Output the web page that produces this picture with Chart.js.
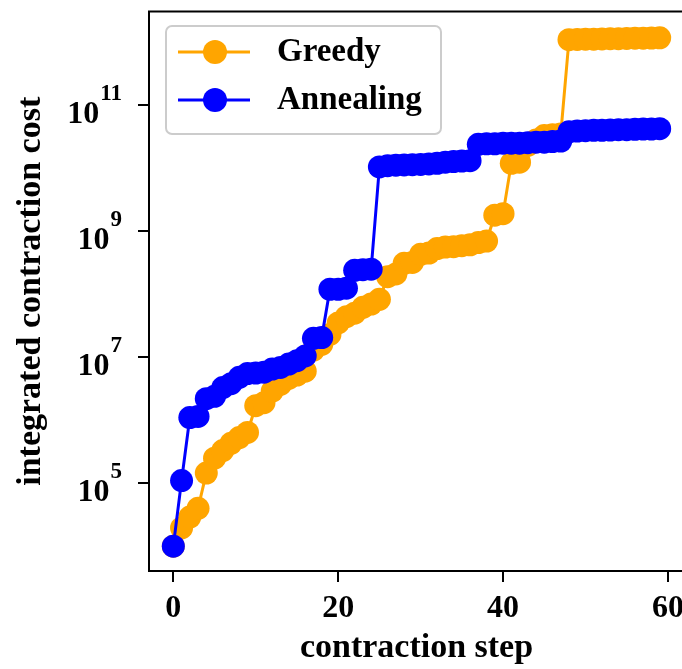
<!DOCTYPE html>
<html>
<head>
<meta charset="utf-8">
<script src="https://cdn.jsdelivr.net/npm/chart.js@4/dist/chart.umd.min.js"></script>
<style>
html,body{margin:0;padding:0;overflow:hidden;background:#ffffff;}
#wrap{position:relative;width:700px;height:669px;}
</style>
</head>
<body>
<div id="wrap"><canvas id="c"></canvas></div>
<script>
// ---- data ----
const steps = [0,1,2,3,4,5,6,7,8,9,10,11,12,13,14,15,16,17,18,19,20,21,22,23,24,25,26,27,28,29,
               30,31,32,33,34,35,36,37,38,39,40,41,42,43,44,45,46,47,48,49,50,51,52,53,54,55,56,57,58,59];
const greedy = [1.0e4,1.95e4,2.9e4,4.0e4,1.45e5,2.5e5,3.3e5,4.3e5,5.3e5,6.4e5,
                1.7e6,1.9e6,2.9e6,3.7e6,4.6e6,5.2e6,6.0e6,1.3e7,1.6e7,2.3e7,
                3.5e7,4.4e7,5.0e7,6.2e7,7.0e7,8.3e7,1.9e8,2.1e8,3.1e8,3.2e8,
                4.3e8,4.5e8,5.3e8,5.6e8,5.7e8,5.9e8,6.1e8,6.6e8,7.0e8,1.8e9,
                1.9e9,1.2e10,1.25e10,2.3e10,2.8e10,3.3e10,3.4e10,3.5e10,1.1e12,1.11e12,
                1.12e12,1.12e12,1.13e12,1.14e12,1.14e12,1.15e12,1.16e12,1.16e12,1.17e12,1.18e12];
const annealing = [1.0e4,1.1e5,1.1e6,1.15e6,2.2e6,2.4e6,3.3e6,3.8e6,4.8e6,5.5e6,
                   5.6e6,5.8e6,6.5e6,6.9e6,7.8e6,8.8e6,1.05e7,2.0e7,2.05e7,1.2e8,
                   1.2e8,1.25e8,2.4e8,2.45e8,2.5e8,1.05e10,1.1e10,1.12e10,1.13e10,1.14e10,
                   1.15e10,1.17e10,1.2e10,1.25e10,1.28e10,1.3e10,1.32e10,2.4e10,2.45e10,2.45e10,
                   2.5e10,2.5e10,2.5e10,2.55e10,2.6e10,2.6e10,2.65e10,2.7e10,3.8e10,3.9e10,
                   3.95e10,4.0e10,4.0e10,4.05e10,4.1e10,4.1e10,4.15e10,4.2e10,4.2e10,4.25e10];
const seriesNames = ['Greedy','Annealing'];
const seriesColors = ['#FFA500','#0000FF'];
const xTickValues = [0,20,40,60];
const yTickValues = [1e5,1e7,1e9,1e11];
const yTickExponents = ['5','7','9','11'];
const xTitle = 'contraction step';
const yTitle = 'integrated contraction cost';

const FONT = "'Liberation Serif','Times New Roman',serif";

function pairs(vals){ return steps.map((s,i)=>({x:s,y:vals[i]})); }

const decorPlugin = {
  id: 'decor',
  afterDraw(chart){
    const {ctx, chartArea:a, scales} = chart;
    ctx.save();
    // frame (spines)
    ctx.strokeStyle = '#000'; ctx.lineWidth = 2;
    ctx.strokeRect(a.left, a.top, a.right - a.left, a.bottom - a.top);
    // y tick labels 10^n
    const ys = scales.y;
    const xr = 122;
    ctx.fillStyle = '#000';
    ctx.textBaseline = 'alphabetic';
    ctx.textAlign = 'left';
    yTickValues.forEach((v,i)=>{
      const py = ys.getPixelForValue(v);
      ctx.font = "bold 23px " + FONT;
      const ew = ctx.measureText(yTickExponents[i]).width;
      ctx.font = "bold 32px " + FONT;
      const bw = ctx.measureText('10').width;
      const xe = xr - ew;
      const x0 = xe - 1 - bw;
      ctx.fillText('10', x0, py + 17.5);
      ctx.font = "bold 23px " + FONT;
      ctx.fillText(yTickExponents[i], xe, py - 5.5);
    });
    // legend
    const lx = 166, ly = 26, lw = 275, lh = 108;
    ctx.beginPath();
    ctx.roundRect(lx, ly, lw, lh, 6);
    ctx.fillStyle = 'rgba(255,255,255,0.8)';
    ctx.fill();
    ctx.strokeStyle = '#cccccc'; ctx.lineWidth = 2;
    ctx.stroke();
    chart.data.datasets.forEach((ds,i)=>{
      const cy = 52 + i*48;
      ctx.strokeStyle = ds.borderColor; ctx.lineWidth = 3;
      ctx.beginPath(); ctx.moveTo(178, cy); ctx.lineTo(250, cy); ctx.stroke();
      ctx.fillStyle = ds.backgroundColor;
      ctx.beginPath(); ctx.arc(215, cy, 12, 0, Math.PI*2); ctx.fill();
      ctx.fillStyle = '#000';
      ctx.font = "bold 33px " + FONT;
      ctx.textBaseline = 'middle';
      ctx.fillText(ds.label, 277, cy);
    });
    ctx.restore();
  }
};

new Chart(document.getElementById('c'), {
  type: 'line',
  data: {
    datasets: [
      {label: seriesNames[0], data: pairs(greedy), borderColor: seriesColors[0], backgroundColor: seriesColors[0],
       borderWidth: 3, pointRadius: 11.5, pointBorderWidth: 0, pointHoverRadius: 11.5, order: 1, clip: false},
      {label: seriesNames[1], data: pairs(annealing), borderColor: seriesColors[1], backgroundColor: seriesColors[1],
       borderWidth: 3, pointRadius: 11.5, pointBorderWidth: 0, pointHoverRadius: 11.5, order: 0, clip: false}
    ]
  },
  options: {
    responsive: true,
    maintainAspectRatio: false,
    animation: false,
    events: [],
    layout: {padding: {top: 8, right: 16, left: 0, bottom: 0}},
    plugins: {legend: {display: false}, tooltip: {enabled: false}},
    scales: {
      x: {
        type: 'linear', min: -2.95, max: 61.95,
        afterBuildTicks: s => { s.ticks = xTickValues.map(v=>({value:v})); },
        afterFit: s => { s.height = 98; },
        ticks: {autoSkip: false, maxRotation: 0, padding: 8, color: '#000',
                font: {family: FONT, size: 32, weight: 'bold'}},
        grid: {drawOnChartArea: false, drawTicks: true, tickLength: 11, lineWidth: 2, color: '#000'},
        border: {display: false},
        title: {display: true, text: xTitle, color: '#000', padding: {top: 0, bottom: 0},
                font: {family: FONT, size: 34, weight: 'bold'}}
      },
      y: {
        type: 'logarithmic', min: Math.pow(10,3.606), max: Math.pow(10,12.489),
        afterBuildTicks: s => { s.ticks = yTickValues.map(v=>({value:v})); },
        afterFit: s => { s.width = 149; },
        ticks: {display: false},
        grid: {drawOnChartArea: false, drawTicks: true, tickLength: 11, lineWidth: 2, color: '#000'},
        border: {display: false},
        title: {display: true, text: yTitle, color: '#000', padding: {top: 11, bottom: 0},
                font: {family: FONT, size: 34, weight: 'bold'}}
      }
    }
  },
  plugins: [decorPlugin]
});
</script>
</body>
</html>
